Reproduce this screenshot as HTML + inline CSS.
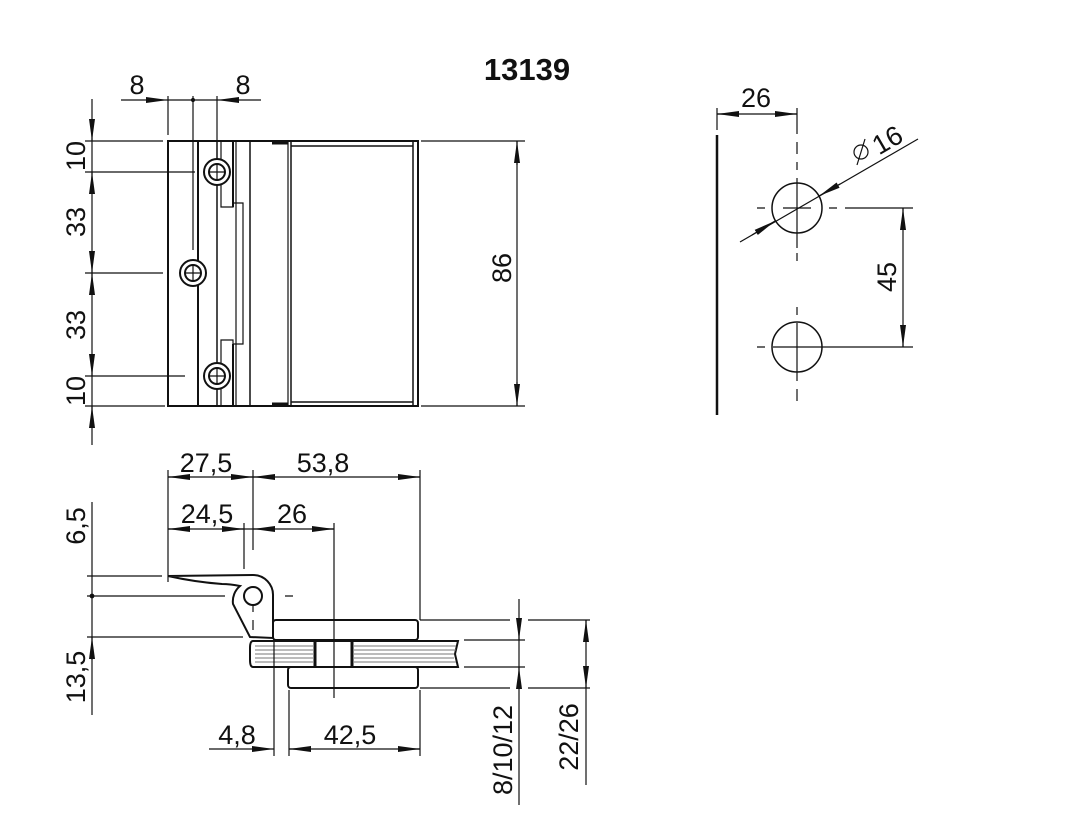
<!DOCTYPE html>
<html><head><meta charset="utf-8"><style>
html,body{margin:0;padding:0;background:#fff;}
svg{display:block;}
text{font-family:"Liberation Sans",sans-serif;font-size:27px;fill:#111;}
</style></head><body>
<svg width="1074" height="820" viewBox="0 0 1074 820" xmlns="http://www.w3.org/2000/svg">
<defs>
<marker id="a" markerWidth="22" markerHeight="8" refX="22" refY="4" orient="auto" markerUnits="userSpaceOnUse">
<path d="M0,1 L22,4 L0,7 z" fill="#111"/></marker>
</defs>
<g stroke="#111" stroke-width="1.2" fill="none">
<rect x="168" y="141" width="250" height="265" stroke-width="2"/>
<line x1="198" y1="141" x2="198" y2="406" stroke-width="2"/>
<line x1="217" y1="141" x2="217" y2="406" stroke-width="1.5"/>
<line x1="221" y1="141" x2="221" y2="172"/>
<line x1="221" y1="376" x2="221" y2="406"/>
<line x1="233" y1="141" x2="233" y2="207" stroke-width="2"/>
<line x1="233" y1="344" x2="233" y2="406" stroke-width="2"/>
<polyline points="221,172 221,207 233,207 233,203 243,203 243,344 233,344 233,340 221,340 221,376"/>
<line x1="236" y1="141" x2="236" y2="406"/>
<line x1="250" y1="141" x2="250" y2="406" stroke-width="1.5"/>
<line x1="272" y1="143" x2="288" y2="143" stroke-width="3"/>
<line x1="272" y1="404" x2="288" y2="404" stroke-width="3"/>
<line x1="288" y1="141" x2="288" y2="406"/>
<line x1="291" y1="141" x2="291" y2="406" stroke-width="1.5"/>
<line x1="291" y1="146" x2="413" y2="146" stroke-width="1.5"/>
<line x1="291" y1="402" x2="413" y2="402" stroke-width="1.5"/>
<line x1="413" y1="141" x2="413" y2="406" stroke-width="1.5"/>
<g fill="#fff" stroke-width="2">
<circle cx="217" cy="172" r="13"/><circle cx="217" cy="172" r="8"/>
<circle cx="193" cy="273" r="13"/><circle cx="193" cy="273" r="8"/>
<circle cx="217" cy="376" r="13"/><circle cx="217" cy="376" r="8"/>
</g>
<path d="M209,172h16M217,164v16M185,273h16M193,265v16M209,376h16M217,368v16"/>
<line x1="121" y1="100" x2="168" y2="100" marker-end="url(#a)"/>
<line x1="168" y1="100" x2="217" y2="100"/>
<line x1="261" y1="100" x2="217" y2="100" marker-end="url(#a)"/>
<line x1="168" y1="96" x2="168" y2="135"/>
<line x1="193" y1="96" x2="193" y2="250"/>
<line x1="217" y1="96" x2="217" y2="141"/>
<circle cx="193" cy="100" r="1.5" fill="#111"/>
<line x1="92" y1="99" x2="92" y2="445"/>
<line x1="92" y1="120" x2="92" y2="141" marker-end="url(#a)"/>
<line x1="92" y1="193" x2="92" y2="172" marker-end="url(#a)"/>
<line x1="92" y1="252" x2="92" y2="273" marker-end="url(#a)"/>
<line x1="92" y1="294" x2="92" y2="273" marker-end="url(#a)"/>
<line x1="92" y1="355" x2="92" y2="376" marker-end="url(#a)"/>
<line x1="92" y1="427" x2="92" y2="406" marker-end="url(#a)"/>
<path d="M85,141h78M85,172h110M85,273h78M85,376h100M85,406h80"/>
<line x1="517" y1="141" x2="517" y2="406"/>
<line x1="517" y1="165" x2="517" y2="141" marker-end="url(#a)"/>
<line x1="517" y1="382" x2="517" y2="406" marker-end="url(#a)"/>
<path d="M421,141h104M421,406h104"/>

<line x1="717" y1="135" x2="717" y2="415" stroke-width="2.5"/>
<line x1="717" y1="108" x2="717" y2="130"/>
<line x1="717" y1="114" x2="797" y2="114"/>
<line x1="739" y1="114" x2="717" y2="114" marker-end="url(#a)"/>
<line x1="775" y1="114" x2="797" y2="114" marker-end="url(#a)"/>
<line x1="797" y1="108" x2="797" y2="134"/>
<circle cx="797" cy="208" r="25" stroke-width="1.5"/>
<circle cx="797" cy="347" r="25" stroke-width="1.5"/>
<path d="M797,142v12M797,162v8M797,178v70M797,253v8M783,208h28M757,208h8M829,208h8M845,208h68" />
<path d="M797,307v8M797,323v58M797,389v12M773,347h48M757,347h8M821,347h92"/>
<line x1="740" y1="242" x2="918" y2="139"/>
<line x1="752" y1="235" x2="775" y2="221" marker-end="url(#a)"/>
<line x1="840" y1="184" x2="819" y2="196" marker-end="url(#a)"/>
<line x1="903" y1="208" x2="903" y2="347"/>
<line x1="903" y1="230" x2="903" y2="208" marker-end="url(#a)"/>
<line x1="903" y1="325" x2="903" y2="347" marker-end="url(#a)"/>
<circle cx="861" cy="152" r="7"/>
<line x1="857" y1="165" x2="865" y2="139"/>

<path d="M168,576 L253,575 A20,20 0 0 1 273,596 L273,638 L250,637 L233,604 A20,20 0 0 1 240,586 Q230,584 222,584 Q195,582 168,576 z" stroke-width="2"/>
<circle cx="253" cy="596" r="9" stroke-width="2"/>
<rect x="273" y="620" width="145" height="20" rx="3" stroke-width="2"/>
<rect x="288" y="667" width="130" height="21" rx="3" stroke-width="2"/>
<path d="M253,641 H458 L455,654 L458,667 H253 Q250,667 250,660 V648 Q250,641 253,641 z" stroke-width="2"/>
<line x1="315" y1="641" x2="315" y2="667" stroke-width="3"/>
<line x1="352" y1="641" x2="352" y2="667" stroke-width="3"/>
<g stroke="#777" stroke-width="1">
<path d="M255,646h58M255,650h58M255,654h58M255,658h58M255,662h58"/>
<path d="M354,646h102M354,650h102M354,654h100M354,658h100M354,662h102"/>
</g>
<line x1="168" y1="477" x2="420" y2="477"/>
<line x1="190" y1="477" x2="168" y2="477" marker-end="url(#a)"/>
<line x1="231" y1="477" x2="253" y2="477" marker-end="url(#a)"/>
<line x1="275" y1="477" x2="253" y2="477" marker-end="url(#a)"/>
<line x1="398" y1="477" x2="420" y2="477" marker-end="url(#a)"/>
<line x1="168" y1="529" x2="334" y2="529"/>
<line x1="190" y1="529" x2="168" y2="529" marker-end="url(#a)"/>
<line x1="222" y1="529" x2="244" y2="529" marker-end="url(#a)"/>
<line x1="275" y1="529" x2="253" y2="529" marker-end="url(#a)"/>
<line x1="312" y1="529" x2="334" y2="529" marker-end="url(#a)"/>
<path d="M168,470v112M244,523v46M253,470v80M334,523v175M420,470v150M253,604v8M253,620v10"/>
<path d="M87,576h75M87,596h138M285,596h8M87,637h156"/>
<circle cx="92" cy="596" r="1.8" fill="#111"/>
<line x1="92" y1="502" x2="92" y2="715"/>
<line x1="92" y1="660" x2="92" y2="637" marker-end="url(#a)"/>
<path d="M420,620h90M528,620h62M464,640h61M464,667h61M420,688h90M528,688h62"/>
<line x1="519" y1="599" x2="519" y2="805"/>
<line x1="519" y1="618" x2="519" y2="640" marker-end="url(#a)"/>
<line x1="519" y1="689" x2="519" y2="667" marker-end="url(#a)"/>
<line x1="586" y1="620" x2="586" y2="785"/>
<line x1="586" y1="642" x2="586" y2="620" marker-end="url(#a)"/>
<line x1="586" y1="666" x2="586" y2="688" marker-end="url(#a)"/>
<path d="M274,640v116M289,690v66M420,690v66"/>
<line x1="209" y1="749" x2="274" y2="749" marker-end="url(#a)"/>
<line x1="289" y1="749" x2="420" y2="749"/>
<line x1="311" y1="749" x2="289" y2="749" marker-end="url(#a)"/>
<line x1="398" y1="749" x2="420" y2="749" marker-end="url(#a)"/>
</g>
<text x="527" y="80" text-anchor="middle" style="font-weight:bold;font-size:31px">13139</text>
<text x="137" y="94" text-anchor="middle">8</text>
<text x="243" y="94" text-anchor="middle">8</text>
<text transform="translate(85,156) rotate(-90)" text-anchor="middle">10</text>
<text transform="translate(85,222) rotate(-90)" text-anchor="middle">33</text>
<text transform="translate(85,325) rotate(-90)" text-anchor="middle">33</text>
<text transform="translate(85,391) rotate(-90)" text-anchor="middle">10</text>
<text transform="translate(511,268) rotate(-90)" text-anchor="middle">86</text>
<text x="756" y="107" text-anchor="middle">26</text>
<text transform="translate(892,148) rotate(-30)" text-anchor="middle">16</text>
<text transform="translate(896,277) rotate(-90)" text-anchor="middle">45</text>
<text x="206" y="472" text-anchor="middle">27,5</text>
<text x="323" y="472" text-anchor="middle">53,8</text>
<text x="207" y="523" text-anchor="middle">24,5</text>
<text x="292" y="523" text-anchor="middle">26</text>
<text transform="translate(85,526) rotate(-90)" text-anchor="middle">6,5</text>
<text transform="translate(85,677) rotate(-90)" text-anchor="middle">13,5</text>
<text x="237" y="744" text-anchor="middle">4,8</text>
<text x="350" y="744" text-anchor="middle">42,5</text>
<text transform="translate(512,750) rotate(-90)" text-anchor="middle">8/10/12</text>
<text transform="translate(578,737) rotate(-90)" text-anchor="middle">22/26</text>
</svg>
</body></html>
